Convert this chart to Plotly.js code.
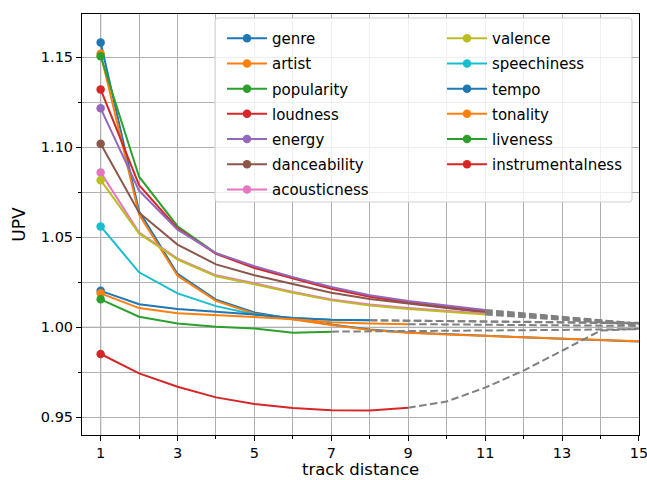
<!DOCTYPE html>
<html><head><meta charset="utf-8">
<script src="https://cdn.plot.ly/plotly-3.0.1.min.js"></script>
<style>html,body{margin:0;padding:0;background:#fff}</style>
</head><body><div id="chart" style="width:647px;height:480px"></div>
<script>
// ---- data ----
const distance = [1,2,3,4,5,6,7,8,9,10,11,12,13,14,15];
const names = ['genre','artist','popularity','loudness','energy','danceability','acousticness',
               'valence','speechiness','tempo','tonality','liveness','instrumentalness'];

const genre        = [1.1583,1.0645,1.0297,1.0154,1.0083,1.0047,1.0016,0.9988,0.9971,0.9961,0.9953,0.9945,0.9937,0.9930,0.9922];
const artist       = [1.1520,1.0626,1.0287,1.0147,1.0076,1.0044,1.0013,0.9986,0.9970,0.9960,0.9952,0.9944,0.9937,0.9930,0.9923];
const popularity   = [1.1506,1.0837,1.0562,1.0412,1.0335,1.0275,1.0219,1.0175,1.0142,1.0116,1.0092];
const loudness     = [1.1322,1.0790,1.0550,1.0408,1.0330,1.0270,1.0214,1.0170,1.0137,1.0111,1.0088];
const energy       = [1.1217,1.0760,1.0543,1.0412,1.0340,1.0279,1.0224,1.0179,1.0146,1.0120,1.0097];
const danceability = [1.1020,1.0637,1.0460,1.0350,1.0290,1.0240,1.0192,1.0157,1.0130,1.0107,1.0082];
const acousticness = [1.0861,1.0527,1.0382,1.0289,1.0245,1.0197,1.0155,1.0127,1.0107,1.0090,1.0076];
const valence      = [1.0818,1.0522,1.0377,1.0284,1.0240,1.0192,1.0150,1.0122,1.0102,1.0086,1.0072];
const speechiness  = [1.0561,1.0306,1.0189,1.0118,1.0072,1.0052,1.0043,1.0040];
const tempo        = [1.0203,1.0129,1.0102,1.0087,1.0072,1.0052,1.0042,1.0039];
const tonality     = [1.0189,1.0107,1.0078,1.0069,1.0058,1.0045,1.0028,1.0022,1.0018];
const liveness     = [1.0156,1.0059,1.0022,1.0004,0.9994,0.9970,0.9976];
const instrumentalness = [0.9852,0.9744,0.9670,0.9611,0.9574,0.9552,0.9539,0.9538,0.9553];

// gray dashed continuations (start at each series' last distance)
const popularityExt   = [1.0092,1.0073,1.0055,1.0037,1.0020];
const loudnessExt     = [1.0088,1.0070,1.0052,1.0035,1.0019];
const energyExt       = [1.0097,1.0077,1.0058,1.0039,1.0021];
const danceabilityExt = [1.0082,1.0065,1.0048,1.0032,1.0017];
const acousticnessExt = [1.0076,1.0060,1.0044,1.0029,1.0015];
const valenceExt      = [1.0072,1.0056,1.0041,1.0027,1.0014];
const speechinessExt  = [1.0040,1.0037,1.0034,1.0031,1.0029,1.0027,1.0025,1.0022];
const tempoExt        = [1.0039,1.0037,1.0035,1.0033,1.0031,1.0029,1.0027,1.0025];
const tonalityExt     = [1.0018,1.0016,1.0015,1.0013,1.0012,1.0010,1.0008];
const livenessExt     = [0.9976,0.9977,0.9978,0.9980,0.9982,0.9984,0.9986,0.9988,0.9990];
const instrumentalnessExt = [0.9553,0.9588,0.9665,0.9760,0.9870,0.9982,0.9993];

const xTicks = [1,3,5,7,9,11,13,15];
const xTitle = 'track distance';
const yTitle = 'UPV';

// ---- build ----
const values = [genre,artist,popularity,loudness,energy,danceability,acousticness,
                valence,speechiness,tempo,tonality,liveness,instrumentalness];
const extensions = [null,null,popularityExt,loudnessExt,energyExt,danceabilityExt,acousticnessExt,
                    valenceExt,speechinessExt,tempoExt,tonalityExt,livenessExt,instrumentalnessExt];
const colors = ['#1f77b4','#ff7f0e','#2ca02c','#d62728','#9467bd','#8c564b','#e377c2',
                '#bcbd22','#17becf','#1f77b4','#ff7f0e','#2ca02c','#d62728'];

const traces = [];
values.forEach((v,i)=>{
  traces.push({x: distance.slice(0,v.length), y: v, type:'scatter', mode:'lines',
    line:{color:colors[i], width:2}, showlegend:false, hoverinfo:'skip'});
  const ext = extensions[i];
  if (ext) {
    traces.push({x: distance.slice(v.length-1, v.length-1+ext.length), y: ext, type:'scatter', mode:'lines',
      line:{color:'#808080', width:2, dash:'7.5px,3.5px'}, showlegend:false, hoverinfo:'skip'});
  }
});
values.forEach((v,i)=>{
  traces.push({x:[distance[0]], y:[v[0]], type:'scatter', mode:'lines+markers', name:names[i],
    marker:{color:colors[i], size:8.5, line:{width:0}}, line:{color:colors[i], width:2},
    legend: i<7 ? 'legend' : 'legend2', legendgroup:'g'+i, hoverinfo:'skip'});
});

const L = 82, R = 8, T = 14, B = 45, W = 647, H = 480;
const pw = W-L-R, ph = H-T-B;
function px2x(p){return (p-L)/pw;}
function py2y(p){return 1-(p-T)/ph;}

const bx0 = px2x(215), bx1 = px2x(632), by0 = py2y(18), by1 = py2y(202);
const rx = 3/pw, ry = 3/ph;
const boxPath = `M${bx0+rx},${by0} L${bx1-rx},${by0} Q${bx1},${by0} ${bx1},${by0-ry} L${bx1},${by1+ry} Q${bx1},${by1} ${bx1-rx},${by1} L${bx0+rx},${by1} Q${bx0},${by1} ${bx0},${by1+ry} L${bx0},${by0-ry} Q${bx0},${by0} ${bx0+rx},${by0} Z`;

const legendBase = {xanchor:'left', yanchor:'top', bgcolor:'rgba(0,0,0,0)', borderwidth:0,
  font:{family:'DejaVu Sans', size:15, color:'#000'}, itemwidth:40, tracegroupgap:2.7};

const layout = {
  width:W, height:H, margin:{l:L, r:R, t:T, b:B},
  paper_bgcolor:'#fff', plot_bgcolor:'#fff',
  font:{family:'DejaVu Sans', size:15, color:'#000'},
  showlegend:true,
  xaxis:{range:[0.515,15.002], tickmode:'array', tickvals:xTicks, ticklabeloverflow:'allow',
    ticks:'outside', ticklen:5, tickwidth:1, tickcolor:'#000',
    showgrid:true, gridcolor:'#b0b0b0', gridwidth:1,
    minor:{dtick:1, tick0:0, ticks:'outside', ticklen:3, tickcolor:'#000', showgrid:true, gridcolor:'#b0b0b0', gridwidth:1},
    showline:true, linecolor:'#000', linewidth:1, mirror:true, zeroline:false,
    tickfont:{family:'DejaVu Sans', size:14.5, color:'#000'}},
  yaxis:{range:[0.9402,1.1741], tick0:0.95, dtick:0.05, tickformat:'.2f',
    ticks:'outside', ticklen:5, tickwidth:1, tickcolor:'#000',
    showgrid:true, gridcolor:'#b0b0b0', gridwidth:1,
    minor:{dtick:0.025, tick0:0.95, ticks:'outside', ticklen:3, tickcolor:'#000', showgrid:true, gridcolor:'#b0b0b0', gridwidth:1},
    showline:true, linecolor:'#000', linewidth:1, mirror:true, zeroline:false,
    tickfont:{family:'DejaVu Sans', size:14.5, color:'#000'},
    title:{text:yTitle, font:{family:'DejaVu Sans', size:17, color:'#000'}, standoff:10}},
  legend: Object.assign({x:px2x(222), y:py2y(22)}, legendBase),
  legend2: Object.assign({x:px2x(442), y:py2y(22)}, legendBase),
  annotations:[
    {text:xTitle, xref:'paper', yref:'paper', x:0.5, y:py2y(469.5), xanchor:'center', yanchor:'middle',
     showarrow:false, borderpad:0, font:{family:'DejaVu Sans', size:16.5, color:'#000'}}
  ],
  shapes:[
    {type:'line', xref:'x', yref:'paper', x0:1, x1:1, y0:0, y1:1, line:{color:'#555', width:1}, layer:'between'},
    {type:'line', xref:'paper', yref:'y', x0:0, x1:1, y0:1, y1:1, line:{color:'#555', width:1}, layer:'between'},
    {type:'path', xref:'paper', yref:'paper', path:boxPath, fillcolor:'rgba(255,255,255,0.8)', line:{color:'rgba(204,204,204,0.9)', width:1}, layer:'above'}
  ]
};

Plotly.newPlot('chart', traces, layout, {staticPlot:true, displayModeBar:false});
</script>
</body></html>
